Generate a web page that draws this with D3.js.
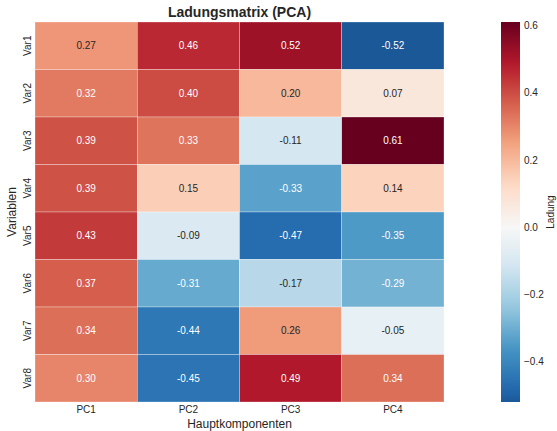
<!DOCTYPE html>
<html><head><meta charset="utf-8">
<script src="https://cdn.jsdelivr.net/npm/d3@7"></script>
<style>body{margin:0;background:#fff;} text{font-family:"Liberation Sans",Arial,sans-serif;}</style>
</head><body><svg id="c" width="557" height="431"></svg>
<script>
const components = ["PC1","PC2","PC3","PC4"];
const variables = ["Var1","Var2","Var3","Var4","Var5","Var6","Var7","Var8"];
const loadings = [
  [0.27, 0.46, 0.52, -0.52],
  [0.32, 0.40, 0.20, 0.07],
  [0.39, 0.33, -0.11, 0.61],
  [0.39, 0.15, -0.33, 0.14],
  [0.43, -0.09, -0.47, -0.35],
  [0.37, -0.31, -0.17, -0.29],
  [0.34, -0.44, 0.26, -0.05],
  [0.30, -0.45, 0.49, 0.34]
];
const cbarTicks = [-0.4, -0.2, 0.0, 0.2, 0.4, 0.6];
const title = "Ladungsmatrix (PCA)";
const xTitle = "Hauptkomponenten";
const yTitle = "Variablen";
const cbarTitle = "Ladung";

const rdbuR = ["#053061","#2166ac","#4393c3","#92c5de","#d1e5f0","#f7f7f7","#fddbc7","#f4a582","#d6604d","#b2182b","#67001f"];
const interp = d3.piecewise(d3.interpolateRgb, rdbuR);
const flat = loadings.flat();
const vmin = d3.min(flat), vmax = d3.max(flat);
const M = Math.max(Math.abs(vmin), Math.abs(vmax));
const color = v => interp((v + M) / (2 * M));

function lum(c){
  const r = d3.rgb(c);
  const f = x => { x/=255; return x <= 0.03928 ? x/12.92 : Math.pow((x+0.055)/1.055, 2.4); };
  return 0.2126*f(r.r)+0.7152*f(r.g)+0.0722*f(r.b);
}

const svg = d3.select("#c");
const L = 35, R = 444, T = 22, B = 402;
const x = d3.scaleBand().domain(components).range([L, R]);
const y = d3.scaleBand().domain(variables).range([T, B]);

const cells = [];
variables.forEach((v,i)=>components.forEach((c,j)=>cells.push({v,c,val:loadings[i][j]})));

svg.append("g").selectAll("rect").data(cells).join("rect")
  .attr("x", d=>x(d.c)).attr("y", d=>y(d.v))
  .attr("width", x.bandwidth()).attr("height", y.bandwidth())
  .attr("fill", d=>color(d.val))
  .attr("stroke", "#fff").attr("stroke-width", 0.5).attr("stroke-opacity", 0.6);

svg.append("g").selectAll("text").data(cells).join("text")
  .attr("x", d=>x(d.c)+x.bandwidth()/2).attr("y", d=>y(d.v)+y.bandwidth()/2)
  .attr("text-anchor","middle").attr("dominant-baseline","central")
  .attr("font-size", 10)
  .attr("fill", d=> lum(color(d.val)) > 0.408 ? "#262626" : "#ffffff")
  .text(d=>d.val.toFixed(2));

// x axis
const xa = svg.append("g").attr("transform", `translate(0,${B})`)
  .call(d3.axisBottom(x).tickSize(0).tickPadding(4));
xa.select(".domain").remove();
xa.selectAll("text").attr("font-size", 10).attr("fill", "#262626").attr("font-family","Liberation Sans, Arial, sans-serif");

// y axis
const ya = svg.append("g").attr("transform", `translate(${L},0)`)
  .call(d3.axisLeft(y).tickSize(0).tickPadding(0));
ya.select(".domain").remove();
ya.selectAll("text")
  .attr("font-size", 10).attr("fill", "#262626").attr("font-family","Liberation Sans, Arial, sans-serif")
  .attr("transform", function(d){ return `translate(-8,${0}) rotate(-90)`; })
  .attr("x", 0).attr("dy", 0).attr("text-anchor","middle").attr("dominant-baseline","central");
ya.selectAll(".tick text").each(function(){
  const t = d3.select(this.parentNode);
});

svg.append("text").attr("x",(L+R)/2).attr("y",17).attr("text-anchor","middle")
  .attr("font-size",14).attr("font-weight","bold").attr("fill","#262626").text(title);
svg.append("text").attr("x",(L+R)/2).attr("y",428).attr("text-anchor","middle")
  .attr("font-size",12).attr("fill","#262626").text(xTitle);
svg.append("text").attr("transform",`translate(16,${(T+B)/2}) rotate(-90)`).attr("text-anchor","middle")
  .attr("font-size",12).attr("fill","#262626").text(yTitle);

// colorbar
const cbX = 501, cbW = 19;
const cy = d3.scaleLinear().domain([vmin, vmax]).range([B, T]);
const defs = svg.append("defs");
const grad = defs.append("linearGradient").attr("id","cbg").attr("x1",0).attr("x2",0).attr("y1",1).attr("y2",0);
d3.range(0, 1.0001, 0.02).forEach(t=>{
  const v = vmin + t*(vmax-vmin);
  grad.append("stop").attr("offset", t).attr("stop-color", color(v));
});
svg.append("rect").attr("x",cbX).attr("y",T).attr("width",cbW).attr("height",B-T).attr("fill","url(#cbg)");
const ca = svg.append("g").attr("transform",`translate(${cbX+cbW},0)`)
  .call(d3.axisRight(cy).tickValues(cbarTicks).tickSize(0).tickPadding(4).tickFormat(d=>d3.format(".1f")(d).replace("-","\u2212")));
ca.select(".domain").remove();
ca.selectAll("text").attr("font-size",10).attr("fill","#262626").attr("font-family","Liberation Sans, Arial, sans-serif");
svg.append("text").attr("transform",`translate(554,${(T+B)/2}) rotate(-90)`).attr("text-anchor","middle")
  .attr("font-size",10).attr("fill","#262626").text(cbarTitle);
</script></body></html>
